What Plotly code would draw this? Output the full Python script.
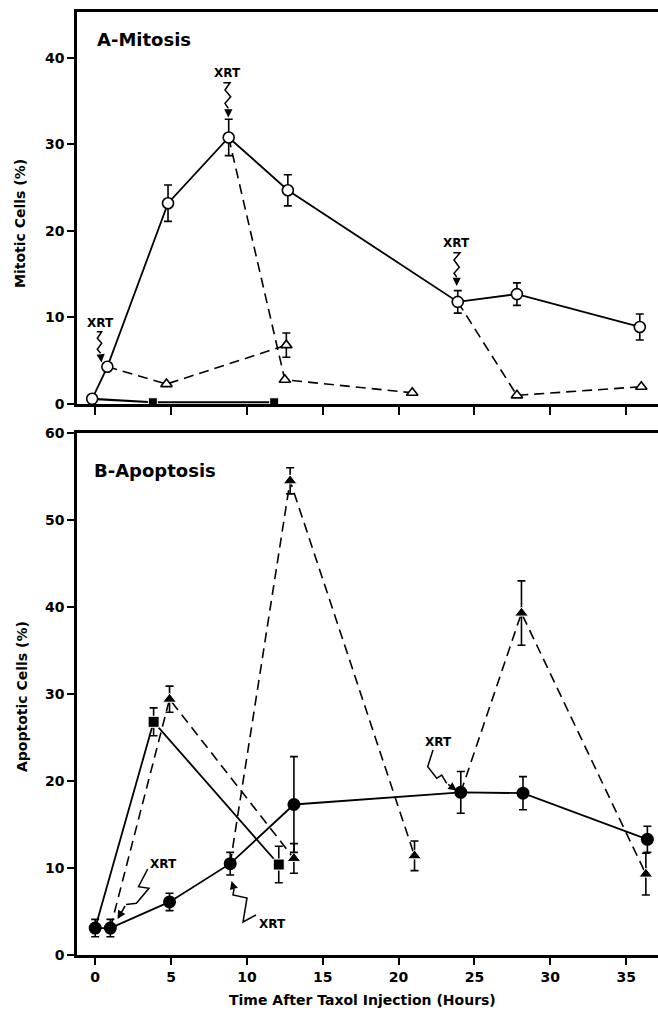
import plotly.graph_objects as go

# ---------------- data ----------------
# Panel A - Mitosis
mit_taxol_x = [-0.2, 0.8, 4.8, 8.8, 12.7, 23.9, 27.8, 35.9]
mit_taxol_y = [0.6, 4.3, 23.2, 30.8, 24.7, 11.8, 12.7, 8.9]
mit_taxol_err = [0, 0, 2.1, 2.1, 1.8, 1.3, 1.3, 1.5]

mit_xrt1_x = [0.8, 4.7, 12.6]
mit_xrt1_y = [4.3, 2.3, 6.8]
mit_xrt1_err = [0, 0, 1.4]

mit_xrt9_x = [8.8, 12.5, 20.9]
mit_xrt9_y = [30.8, 2.8, 1.3]

mit_xrt24_x = [23.9, 27.8, 36.0]
mit_xrt24_y = [11.8, 1.0, 2.0]

mit_xrt0_x = [-0.2, 3.8, 11.8]
mit_xrt0_y = [0.6, 0.2, 0.2]

# Panel B - Apoptosis
apo_taxol_x = [0, 1, 4.9, 8.9, 13.1, 24.1, 28.2, 36.4]
apo_taxol_y = [3.1, 3.1, 6.1, 10.5, 17.3, 18.7, 18.6, 13.3]
apo_taxol_err = [1.0, 1.0, 1.0, 1.3, 5.5, 2.4, 1.9, 1.5]

apo_xrt0_x = [0, 3.85, 12.1]
apo_xrt0_y = [3.1, 26.8, 10.4]
apo_xrt0_err = [0, 1.6, 2.1]

apo_xrt1_x = [1, 4.9, 13.1]
apo_xrt1_y = [3.1, 29.4, 11.1]
apo_xrt1_err = [0, 1.5, 1.7]

apo_xrt9_x = [8.9, 12.85, 21.05]
apo_xrt9_y = [10.5, 54.5, 11.4]
apo_xrt9_err = [0, 1.5, 1.7]

apo_xrt24_x = [24.1, 28.1, 36.3]
apo_xrt24_y = [18.7, 39.3, 9.3]
apo_xrt24_err = [0, 3.7, 2.4]

x_ticks = [0, 5, 10, 15, 20, 25, 30, 35]
mit_ticks = [0, 10, 20, 30, 40]
apo_ticks = [0, 10, 20, 30, 40, 50, 60]

# ---------------- layout constants ----------------
W, H = 658, 1011
ML, MR, MT, MB = 77, 0, 12, 56
XMIN, XMAX = -1.2, 37.1
TOP_T, TOP_B = 12, 404
BOT_T, BOT_B = 433, 955
PH = H - MT - MB
PW = W - ML - MR

FONT = "DejaVu Sans"
BLACK = "black"


def pxp(px):
    return (px - ML) / PW


def pyp(py):
    return (H - MB - py) / PH


def err(arr, visible=True):
    return dict(type="data", array=arr, visible=visible, color=BLACK,
                thickness=1.6, width=4)


def sizes(n, first, rest):
    return [first] + [rest] * (n - 1)


def label(px, py, text, size, xanchor="center", angle=0):
    return dict(x=pxp(px), y=pyp(py), xref="paper", yref="paper", text=text,
                xanchor=xanchor, yanchor="middle", textangle=angle,
                showarrow=False,
                font=dict(family=FONT, size=size, color=BLACK, weight="bold"))


fig = go.Figure()

# ---------- Panel A ----------
fig.add_trace(go.Scatter(
    x=mit_xrt0_x, y=mit_xrt0_y, xaxis="x2", yaxis="y2", mode="lines+markers",
    line=dict(color=BLACK, width=2.2),
    marker=dict(symbol="square", size=sizes(3, 0, 9), color=BLACK, opacity=1),
    cliponaxis=True))
for xs, ys, es in [(mit_xrt1_x, mit_xrt1_y, mit_xrt1_err),
                   (mit_xrt9_x, mit_xrt9_y, None),
                   (mit_xrt24_x, mit_xrt24_y, None)]:
    fig.add_trace(go.Scatter(
        x=xs, y=ys, xaxis="x2", yaxis="y2", mode="lines+markers",
        line=dict(color=BLACK, width=1.6, dash="10px,6px"),
        marker=dict(symbol="triangle-up", size=sizes(3, 0, 10), color="white",
                    opacity=1, line=dict(color=BLACK, width=1.6)),
        error_y=err(es) if es else None, cliponaxis=False))
fig.add_trace(go.Scatter(
    x=mit_taxol_x, y=mit_taxol_y, xaxis="x2", yaxis="y2", mode="lines+markers",
    line=dict(color=BLACK, width=1.8),
    marker=dict(symbol="circle", size=11, color="white", opacity=1,
                line=dict(color=BLACK, width=1.6)),
    error_y=err(mit_taxol_err), cliponaxis=False))

# ---------- Panel B ----------
fig.add_trace(go.Scatter(
    x=apo_xrt0_x, y=apo_xrt0_y, mode="lines+markers",
    line=dict(color=BLACK, width=1.8),
    marker=dict(symbol="square", size=sizes(3, 0, 11), color=BLACK, opacity=1),
    error_y=err(apo_xrt0_err), cliponaxis=False))
for xs, ys, es in [(apo_xrt1_x, apo_xrt1_y, apo_xrt1_err),
                   (apo_xrt9_x, apo_xrt9_y, apo_xrt9_err),
                   (apo_xrt24_x, apo_xrt24_y, apo_xrt24_err)]:
    fig.add_trace(go.Scatter(
        x=xs, y=ys, mode="lines+markers",
        line=dict(color=BLACK, width=1.6, dash="10px,6px"),
        marker=dict(symbol="triangle-up", size=sizes(3, 0, 12), color=BLACK,
                    opacity=1),
        error_y=err(es), cliponaxis=False))
fig.add_trace(go.Scatter(
    x=apo_taxol_x, y=apo_taxol_y, mode="lines+markers",
    line=dict(color=BLACK, width=1.8),
    marker=dict(symbol="circle", size=13, color=BLACK, opacity=1),
    error_y=err(apo_taxol_err), cliponaxis=False))

# ---------- XRT zig-zag arrows (pixel positions of decorations) ----------
xrt_marks = [
    # (text centre, zig-zag points, arrow tip)
    ((100, 323), [(96.7, 331.7), (101.7, 331.7), (97.3, 338.3), (101.7, 343.3),
                  (97.3, 349.3), (100.5, 353.3)], (101.5, 362.5)),
    ((227, 73), [(223.3, 82.7), (230, 82.7), (225, 90), (230.7, 96.7),
                 (225, 103.3), (228.3, 108.3)], (228.3, 117.5)),
    ((456, 243.5), [(453.3, 252.7), (460, 252.7), (454, 260), (459.3, 267.3),
                    (454, 273.3), (456.7, 277)], (456.7, 286)),
    ((163.5, 864), [(147.7, 869), (138.5, 886.7), (149, 888.3), (136.4, 903.3),
                    (126, 904.5)], (117.5, 919)),
    ((272, 924), [(256, 915), (243, 922), (247, 898), (233, 895),
                  (234, 889)], (231.5, 881)),
    ((438.5, 742), [(433, 750), (427.7, 766.7), (436.7, 778.3), (441.7, 775),
                    (446.7, 783.3)], (456.7, 790.5)),
]

shapes = []
annotations = []
for (tx, ty), pts, (ax_, ay_) in xrt_marks:
    annotations.append(label(tx, ty, "XRT", 12))
    path = "M " + " L ".join(f"{pxp(px):.5f},{pyp(py):.5f}" for px, py in pts)
    shapes.append(dict(type="path", path=path, xref="paper", yref="paper",
                       line=dict(color=BLACK, width=1.5)))
    lx, ly = pts[-1]
    annotations.append(dict(
        x=pxp(ax_), y=pyp(ay_), xref="paper", yref="paper", text="",
        showarrow=True, ax=lx - ax_, ay=ly - ay_, arrowhead=2, arrowsize=1.1,
        arrowwidth=1.5, arrowcolor=BLACK, standoff=0, startstandoff=0))

# panel titles and axis titles
annotations += [
    label(95, 40, "A-Mitosis", 18, xanchor="left"),
    label(92, 470, "B-Apoptosis", 18, xanchor="left"),
    label(20, 223, "Mitotic Cells (%)", 14, angle=-90),
    label(22, 697, "Apoptotic Cells (%)", 14, angle=-90),
    label(362, 1000, "Time After Taxol Injection (Hours)", 14),
]

tickfont = dict(family=FONT, size=14, color=BLACK, weight="bold")
axis_common = dict(showline=True, linecolor=BLACK, linewidth=2.6,
                   showgrid=False, zeroline=False, ticks="outside",
                   tickcolor=BLACK, tickwidth=2, tickfont=tickfont)

fig.update_layout(
    width=W, height=H,
    margin=dict(l=ML, r=MR, t=MT, b=MB),
    paper_bgcolor="white", plot_bgcolor="white",
    showlegend=False,
    xaxis=dict(domain=[0, 1], anchor="y", range=[XMIN, XMAX], tickvals=x_ticks,
               ticklen=7, mirror=True, **axis_common),
    yaxis=dict(domain=[0, (BOT_B - BOT_T) / PH], anchor="x", range=[0, 60],
               tickvals=apo_ticks, ticklen=7, **axis_common),
    xaxis2=dict(domain=[0, 1], anchor="y2", range=[XMIN, XMAX], tickvals=x_ticks,
                ticklen=8, showticklabels=False, mirror=True, **axis_common),
    yaxis2=dict(domain=[(BOT_B - TOP_B) / PH, 1], anchor="x2", range=[0, 45.3],
                tickvals=mit_ticks, ticklen=7, **axis_common),
    shapes=shapes,
    annotations=annotations,
)

fig.write_html(
    "out.html",
    config={"displayModeBar": False},
    post_script="document.body.style.margin='0px';"
                "document.body.style.overflow='hidden';",
)
